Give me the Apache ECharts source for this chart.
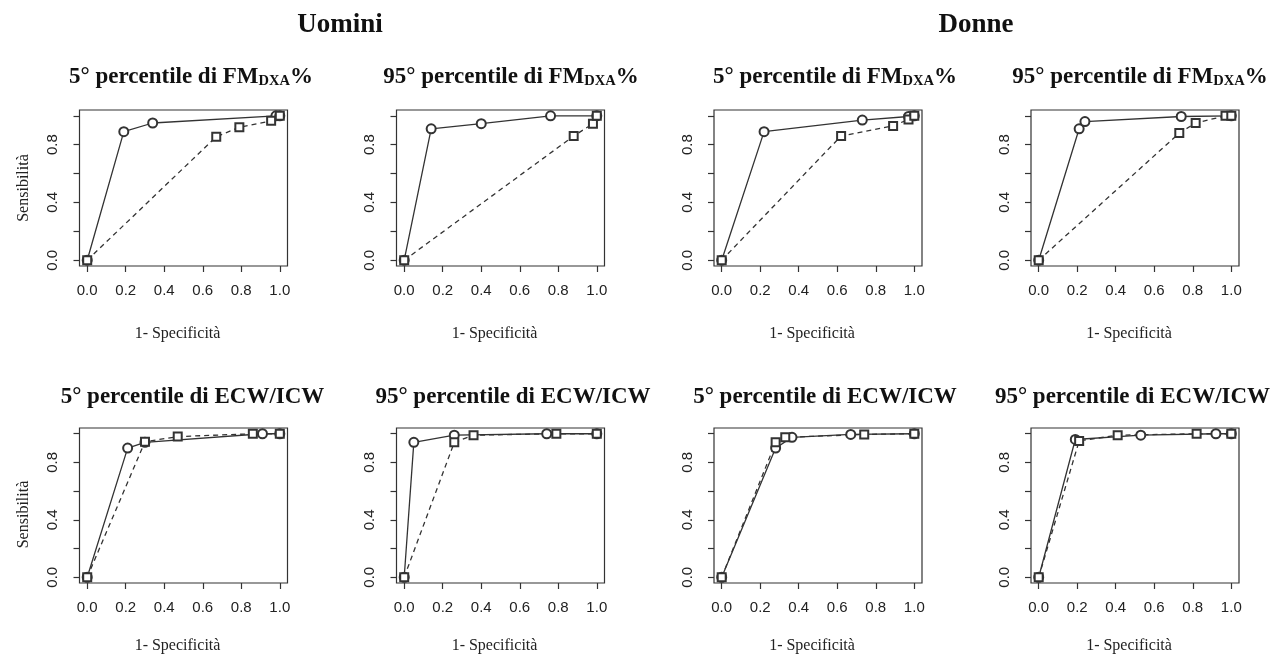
<!DOCTYPE html>
<html>
<head>
<meta charset="utf-8">
<script src="https://cdn.jsdelivr.net/npm/echarts@6/dist/echarts.min.js"></script>
<style>
  html, body { margin: 0; padding: 0; background: #fff; }
  #container { width: 1282px; height: 655px; }
</style>
</head>
<body>
<div id="container"></div>
<script>
const chartIns = echarts.init(document.getElementById('container'), undefined, { renderer: 'canvas' });

// assi (stile R: box esteso del 4%)
const xTicks = [0, 0.2, 0.4, 0.6, 0.8, 1.0];
const yTicks = [0, 0.2, 0.4, 0.6, 0.8, 1.0];
const yLabels = [0, 0.4, 0.8];

// intestazioni e titoli
const groupNames = ['Uomini', 'Donne'];
const titleMain = ['5° percentile di ', '95° percentile di ', '5° percentile di ', '95° percentile di ',
                   '5° percentile di ', '95° percentile di ', '5° percentile di ', '95° percentile di '];
const titleVar = ['FM', 'FM', 'FM', 'FM', 'ECW/ICW', 'ECW/ICW', 'ECW/ICW', 'ECW/ICW'];
const titleSub = ['DXA', 'DXA', 'DXA', 'DXA', '', '', '', ''];
const titleSuffix = ['%', '%', '%', '%', '', '', '', ''];
const xName = '1- Specificità';
const yName = 'Sensibilità';

// curve ROC: [1-specificità, sensibilità], cerchi = linea continua, quadrati = tratteggiata
const uominiFm5Circ = [[0, 0], [0.19, 0.89], [0.34, 0.95], [0.98, 1.0], [1.0, 1.0]];
const uominiFm5Sq = [[0, 0], [0.67, 0.855], [0.79, 0.92], [0.955, 0.965], [1.0, 1.0]];
const uominiFm95Circ = [[0, 0], [0.14, 0.91], [0.40, 0.945], [0.76, 1.0], [1.0, 1.0]];
const uominiFm95Sq = [[0, 0], [0.88, 0.86], [0.98, 0.945], [1.0, 1.0]];
const donneFm5Circ = [[0, 0], [0.22, 0.89], [0.73, 0.97], [0.97, 0.995], [1.0, 1.0]];
const donneFm5Sq = [[0, 0], [0.62, 0.86], [0.89, 0.93], [0.97, 0.975], [1.0, 1.0]];
const donneFm95Circ = [[0, 0], [0.21, 0.91], [0.24, 0.96], [0.74, 0.995], [1.0, 1.0]];
const donneFm95Sq = [[0, 0], [0.73, 0.88], [0.815, 0.95], [0.97, 1.0], [1.0, 1.0]];
const uominiEcw5Circ = [[0, 0], [0.21, 0.90], [0.30, 0.94], [0.91, 1.0], [1.0, 1.0]];
const uominiEcw5Sq = [[0, 0], [0.30, 0.945], [0.47, 0.98], [0.86, 1.0], [1.0, 1.0]];
const uominiEcw95Circ = [[0, 0], [0.05, 0.94], [0.26, 0.99], [0.74, 1.0], [1.0, 1.0]];
const uominiEcw95Sq = [[0, 0], [0.26, 0.94], [0.36, 0.99], [0.79, 1.0], [1.0, 1.0]];
const donneEcw5Circ = [[0, 0], [0.28, 0.90], [0.365, 0.975], [0.67, 0.995], [1.0, 1.0]];
const donneEcw5Sq = [[0, 0], [0.28, 0.94], [0.33, 0.975], [0.74, 0.995], [1.0, 1.0]];
const donneEcw95Circ = [[0, 0], [0.19, 0.96], [0.53, 0.99], [0.92, 1.0], [1.0, 1.0]];
const donneEcw95Sq = [[0, 0], [0.21, 0.95], [0.41, 0.99], [0.82, 1.0], [1.0, 1.0]];

const circData = [uominiFm5Circ, uominiFm95Circ, donneFm5Circ, donneFm95Circ,
                  uominiEcw5Circ, uominiEcw95Circ, donneEcw5Circ, donneEcw95Circ];
const sqData = [uominiFm5Sq, uominiFm95Sq, donneFm5Sq, donneFm95Sq,
                uominiEcw5Sq, uominiEcw95Sq, donneEcw5Sq, donneEcw95Sq];

// layout pannelli
const boxW = 208, boxH = 156;
const boxLeft = [79.5, 396.5, 714, 1031];
const boxTop = [110, 428];
const titleX = [191, 511, 835, 1140, 192.5, 513, 825, 1132.5];
const titleY = [77, 397];
const ink = '#333';
const serif = '"Liberation Serif", "Times New Roman", serif';
const sans = '"Liberation Sans", Arial, Helvetica, sans-serif';

const grids = [], xAxes = [], yAxes = [], series = [], titles = [];

for (let i = 0; i < 8; i++) {
  const col = i % 4, row = Math.floor(i / 4);
  grids.push({
    left: boxLeft[col], top: boxTop[row], width: boxW, height: boxH,
    show: true, borderColor: ink, borderWidth: 1.2, backgroundColor: 'transparent'
  });
  xAxes.push({
    type: 'value', gridIndex: i, min: -0.04, max: 1.04,
    name: xName, nameLocation: 'middle', nameGap: row === 0 ? 60 : 55,
    nameTextStyle: { fontFamily: serif, fontSize: 16, color: '#222', padding: [0, 12, 0, 0] },
    axisLine: { show: false, onZero: false },
    splitLine: { show: false },
    axisTick: { show: true, length: 6, lineStyle: { color: ink, width: 1.2 }, customValues: xTicks },
    axisLabel: {
      customValues: xTicks, formatter: v => v.toFixed(1),
      fontFamily: sans, fontSize: 15, color: '#222', margin: 17
    }
  });
  yAxes.push({
    type: 'value', gridIndex: i, min: -0.04, max: 1.04,
    name: col === 0 ? yName : '', nameLocation: 'middle', nameGap: 48,
    nameTextStyle: { fontFamily: serif, fontSize: 16, color: '#222', padding: row === 0 ? [0, 0, 0, 0] : [0, 18, 0, 0] },
    axisLine: { show: false, onZero: false },
    splitLine: { show: false },
    axisTick: { show: true, length: 6, lineStyle: { color: ink, width: 1.2 }, customValues: yTicks },
    axisLabel: {
      customValues: yLabels, formatter: v => v.toFixed(1), rotate: 90,
      fontFamily: sans, fontSize: 15, color: '#222', margin: 19
    }
  });
  series.push({
    type: 'line', xAxisIndex: i, yAxisIndex: i, data: circData[i],
    symbol: 'emptyCircle', symbolSize: 9, showAllSymbol: true,
    lineStyle: { color: ink, width: 1.3 },
    itemStyle: { color: ink, borderWidth: 1.1 },
    animation: false, silent: true
  });
  series.push({
    type: 'line', xAxisIndex: i, yAxisIndex: i, data: sqData[i],
    symbol: 'emptyRect', symbolSize: 8, showAllSymbol: true,
    lineStyle: { color: ink, width: 1.3, type: [5, 4] },
    itemStyle: { color: ink, borderWidth: 1.1 },
    animation: false, silent: true
  });
  let txt = '{m|' + titleMain[i] + titleVar[i] + '}';
  if (titleSub[i]) txt += '{s|' + titleSub[i] + '}';
  if (titleSuffix[i]) txt += '{m|' + titleSuffix[i] + '}';
  titles.push({
    text: txt, left: titleX[i], top: titleY[row], textAlign: 'center', textVerticalAlign: 'middle',
    padding: 0,
    textStyle: {
      rich: {
        m: { fontFamily: serif, fontWeight: 'bold', fontSize: 23, color: '#111', verticalAlign: 'bottom' },
        s: { fontFamily: serif, fontWeight: 'bold', fontSize: 14.5, color: '#111', verticalAlign: 'bottom' }
      }
    }
  });
}

titles.push({
  text: groupNames[0], left: 340, top: 25, textAlign: 'center', textVerticalAlign: 'middle', padding: 0,
  textStyle: { fontFamily: serif, fontWeight: 'bold', fontSize: 27, color: '#111' }
});
titles.push({
  text: groupNames[1], left: 976, top: 25, textAlign: 'center', textVerticalAlign: 'middle', padding: 0,
  textStyle: { fontFamily: serif, fontWeight: 'bold', fontSize: 27, color: '#111' }
});

const option = {
  backgroundColor: '#fff',
  animation: false,
  title: titles,
  grid: grids,
  xAxis: xAxes,
  yAxis: yAxes,
  series: series
};

chartIns.setOption(option);
</script>
</body>
</html>
